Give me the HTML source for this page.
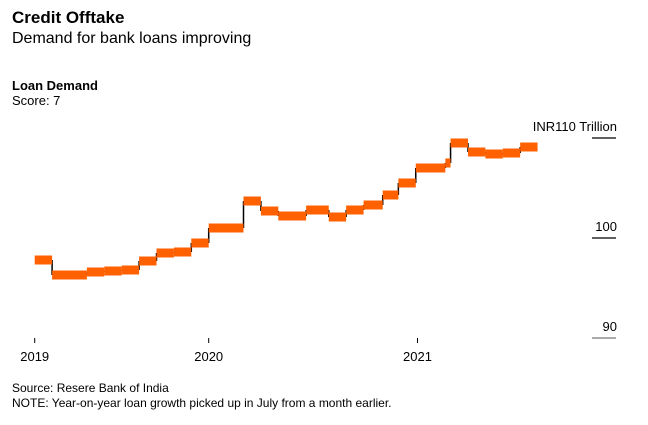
<!DOCTYPE html>
<html><head><meta charset="utf-8"><style>
body{margin:0;width:648px;height:425px;background:#fff;font-family:"Liberation Sans",sans-serif;color:#000;overflow:hidden;position:relative}
.t{position:absolute;white-space:nowrap}
</style></head><body>
<div class="t" style="left:12px;top:8px;font-size:17px;font-weight:bold">Credit Offtake</div>
<div class="t" style="left:12px;top:30px;font-size:16px">Demand for bank loans improving</div>
<div class="t" style="left:12px;top:78px;font-size:13px;font-weight:bold">Loan Demand</div>
<div class="t" style="left:12px;top:93px;font-size:13px">Score: 7</div>
<svg id="c" width="648" height="425" style="position:absolute;left:0;top:0"></svg>
<div class="t" style="left:12px;top:381px;font-size:12px">Source: Resere Bank of India</div>
<div class="t" style="left:12px;top:396px;font-size:12px">NOTE: Year-on-year loan growth picked up in July from a month earlier.</div>
<script>
const starts=[0,1,3,4,5,6,7,8,9,10,12,13,14,15.6,16.9,17.9,18.9,20,20.9,21.9,23.6,23.9,24.9,25.9,26.9,27.9];
const ends=[1,3,4,5,6,7,8,9,10,12,13,14,15.6,16.9,17.9,18.9,20,20.9,21.9,23.6,23.9,24.9,25.9,26.9,27.9,28.9];
const values=[97.8,96.3,96.6,96.7,96.8,97.7,98.5,98.6,99.5,101.0,103.7,102.7,102.2,102.8,102.1,102.8,103.3,104.3,105.5,107.0,107.5,109.5,108.6,108.4,108.5,109.1];
const xTicks=[0,10,22];
const xLabels=["2019","2020","2021"];
const yTicks=[110,100,90];
const yLabels=["INR110 Trillion","100","90"];
const NS="http://www.w3.org/2000/svg";
const svg=document.getElementById('c');
const x=p=>34.7+17.4*p;
const y=v=>238-(v-100)*10;
function mk(t,a){const e=document.createElementNS(NS,t);for(const k in a)e.setAttribute(k,a[k]);svg.appendChild(e);return e;}
yTicks.forEach((v,i)=>{
 const l=mk('line',{x1:592,x2:616,y1:y(v),y2:y(v),stroke:i==2?'#777':'#000','stroke-width':1.2});
 
 
 const t=mk('text',{x:617,y:y(v)-7,'text-anchor':'end','font-size':13,'font-family':'Liberation Sans, sans-serif'});
 t.textContent=yLabels[i];
 
 
});
xTicks.forEach((p,i)=>{
 const l=mk('line',{x1:x(p),x2:x(p),y1:338,y2:343,stroke:'#000','stroke-width':1});
 
 
 const t=mk('text',{x:x(p),y:361,'text-anchor':'middle','font-size':13,'font-family':'Liberation Sans, sans-serif'});
 t.textContent=xLabels[i];
 
 
});
for(let i=1;i<values.length;i++){
 const l=mk('line',{x1:x(starts[i]),x2:x(starts[i]),y1:y(values[i-1]),y2:y(values[i]),stroke:'#000','stroke-width':1.5});
 
 
}
values.forEach((v,i)=>{
 const r=mk('rect',{x:x(starts[i]),y:y(v)-4.5,width:x(ends[i])-x(starts[i]),height:9,fill:'#ff6100'});
 
 
});
</script>
</body></html>
